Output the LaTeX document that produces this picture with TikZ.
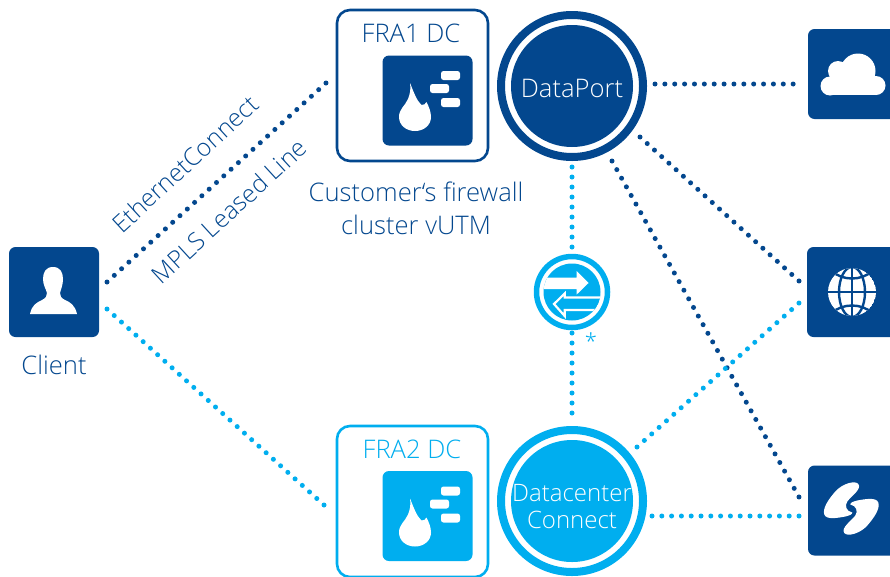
\documentclass[tikz,border=0pt]{standalone}
\usepackage{fontspec}
\setmainfont{Open Sans Light}
\definecolor{navy}{HTML}{03478E}
\definecolor{sky}{HTML}{00AEEF}
\tikzset{
  x=1pt,y=-1pt,
  dots/.style={line width=5pt,line cap=round,dash pattern=on 0pt off #1pt},
  tile/.style={rectangle,rounded corners=6.5pt,fill=#1,minimum size=90pt,inner sep=0pt,outer sep=0pt},
  frame/.style={rectangle,rounded corners=13pt,draw=#1,line width=2.6pt,fill=white,minimum size=151pt,inner sep=0pt,outer sep=0pt},
  ring/.style={circle,draw=#1,line width=8pt,fill=white,minimum size=142pt,inner sep=0pt,outer sep=0pt},
  hub/.style={circle,fill=#1,minimum size=122pt,inner sep=0pt,outer sep=0pt},
  label/.style={text=#1,font=\fontsize{25.6}{33}\selectfont,inner sep=0pt,align=center},
  slant/.style={label=navy,rotate=42.5,font=\fontsize{24.6}{33}\selectfont},
  white bar/.style={fill=white,rounded corners=2.5pt}
}
\newcommand{\fwicon}[2]{%
  \begin{scope}[shift={(#1,#2)}]
    \fill[white] (27,27) .. controls (31,37) and (34,45) .. (38.5,49)
      .. controls (41,49) and (42.5,48) .. (43.5,46)
      .. controls (46,51) and (48,56) .. (48,61)
      .. controls (48,69) and (41,75) .. (32,75)
      .. controls (23,75) and (16,69) .. (16,61)
      .. controls (16,53) and (22,50) .. (25,43)
      .. controls (27,38) and (28,33) .. (27,27) -- cycle;
    \fill[white bar] (58,15) rectangle (77,24);
    \fill[white bar] (47,28) rectangle (66,37);
    \fill[white bar] (58,42) rectangle (77,51);
  \end{scope}}
\begin{document}
\begin{tikzpicture}
\useasboundingbox (0,0) rectangle (890,576);
\clip (0,0) rectangle (890,576);

% tiles
\node[tile=navy] (client) at (54,292) {};
\node[tile=navy] (cloud) at (853,74) {};
\node[tile=navy] (globe) at (852,292) {};
\node[tile=navy] (sync) at (853,510.5) {};

% connector ends
\coordinate (c1a) at (107,282); \coordinate (c1b) at (326,83);
\coordinate (c2a) at (107,309); \coordinate (c2b) at (324,505);
\coordinate (g1) at (799,281); \coordinate (g2) at (799,303);
\coordinate (s1) at (799,497); \coordinate (s2) at (799,516);
\coordinate (cl) at (803,84);
\coordinate (d1) at (655,84); \coordinate (d2) at (640,137); \coordinate (d3) at (612,161); \coordinate (d4) at (572,167);
\coordinate (e1) at (637,447); \coordinate (e2) at (652,516); \coordinate (e3) at (572,423);
\coordinate (w1) at (572,257); \coordinate (w2) at (572,333);

\draw[dots=9.863,navy] (c1a) -- (c1b);
\draw[dots=9.747,sky] (c2a) -- (c2b);
\draw[dots=9.867,navy] (d1) -- (cl);
\draw[dots=9.75,navy] (d2) -- (g1);
\draw[dots=9.859,navy] (d3) -- (s1);
\draw[dots=9.85,sky] (e1) -- (g2);
\draw[dots=9.8,sky] (e2) -- (s2);
\draw[dots=10,sky] (d4) -- (w1);
\draw[dots=10,sky] (w2) -- (e3);

% data centres
\node[frame=navy] (fra1) at (412.5,85.5) {};
\node[tile=navy] (fw1) at (427.5,100.5) {};
\fwicon{383}{56}
\node[frame=sky] (fra2) at (412.5,501.5) {};
\node[tile=sky] (fw2) at (427.5,516) {};
\fwicon{383}{471.5}
\node[label=navy] (fra1t) at (411,33) {FRA1 DC};
\node[label=sky] (fra2t) at (412,449) {FRA2 DC};

% hubs
\node[ring=navy] (dpr) at (572,86) {};
\node[hub=navy] (dp) at (572,86) {};
\node[ring=sky] (dcr) at (572,501) {};
\node[hub=sky] (dc) at (572,501) {};
\node[label=white] (dpt) at (572,88) {DataPort};
\node[label=white,font=\fontsize{24}{27}\selectfont] (dct) at (572,506.5) {Datacenter\\Connect};

% switch
\node[circle,draw=sky,line width=5.5pt,fill=white,minimum size=71pt,inner sep=0pt,outer sep=0pt] (swr) at (572,292) {};
\node[circle,fill=sky,minimum size=57pt,inner sep=0pt,outer sep=0pt] (sw) at (572,292) {};
\begin{scope}
  \clip (572,292) circle (28.5pt);
  \fill[white] (540,277.5) -- (576.7,277.5) -- (576.7,271) -- (588.5,283) -- (576.7,294.5) -- (576.7,289) -- (540,289) -- cycle;
  \filldraw[fill=sky,draw=white,line width=2.2pt] (554,304) -- (564.7,293.5) -- (564.7,297.5) -- (606,297.5) -- (606,310) -- (564.7,310) -- (564.7,316) -- cycle;
\end{scope}

\node[text=sky,font=\fontsize{22}{22}\selectfont,inner sep=0pt] (star) at (591,341) {*};

% labels
\node[label=navy] (clientt) at (54,365) {Client};
\node[label=navy] (fwt) at (416,208) {Customer‘s firewall\\cluster vUTM};
\node[slant] (eth) at (185,164) {EthernetConnect};
\node[slant] (mpls) at (229,211) {MPLS Leased Line};

% person
\fill[white] (53,267) .. controls (46,267) and (43,272) .. (43,279)
  .. controls (43,285) and (46,289) .. (47,293)
  .. controls (47,296) and (46,298) .. (42,300)
  .. controls (36,303) and (32,305) .. (30,314) -- (77,314)
  .. controls (75,305) and (70,302) .. (65,300)
  .. controls (61,298) and (60,296) .. (60,293)
  .. controls (61,289) and (63,285) .. (63,279)
  .. controls (63,272) and (60,267) .. (53,267) -- cycle;

% cloud
\fill[white] (830,86) circle (9.5pt) (876,85.5) circle (9.5pt) (838,71) circle (10pt) (858,71) circle (17.5pt);
\fill[white] (830,76.5) rectangle (876,95);

% globe
\begin{scope}
  \clip (852,292) circle (24pt);
  \fill[white] (852,292) circle (24pt);
  \draw[navy,line width=2.4pt] (852,268) -- (852,316) (828,292) -- (876,292);
  \draw[navy,line width=2.4pt] (852,292) ellipse [x radius=13pt,y radius=25pt];
  \draw[navy,line width=2.4pt] (832,271) .. controls (842,281) and (862,281) .. (872,271);
  \draw[navy,line width=2.4pt] (832,313) .. controls (842,303) and (862,303) .. (872,313);
\end{scope}

% sync mark
\foreach \r in {0,180}{
  \begin{scope}[shift={(851.3,508.5)},rotate=\r]
    \fill[white] (7,-24.5) .. controls (4,-28.5) and (-9,-25) .. (-16,-17)
      .. controls (-23,-9) and (-29,0) .. (-27,6)
      .. controls (-25,11.5) and (-14,9.5) .. (-6,8)
      .. controls (-2,7) and (1,6) .. (1,4)
      .. controls (-5,3) and (-7,-3) .. (-4,-7)
      .. controls (-1,-11.5) and (11,-19.5) .. (7,-24.5) -- cycle;
  \end{scope}}
\end{tikzpicture}
\end{document}
